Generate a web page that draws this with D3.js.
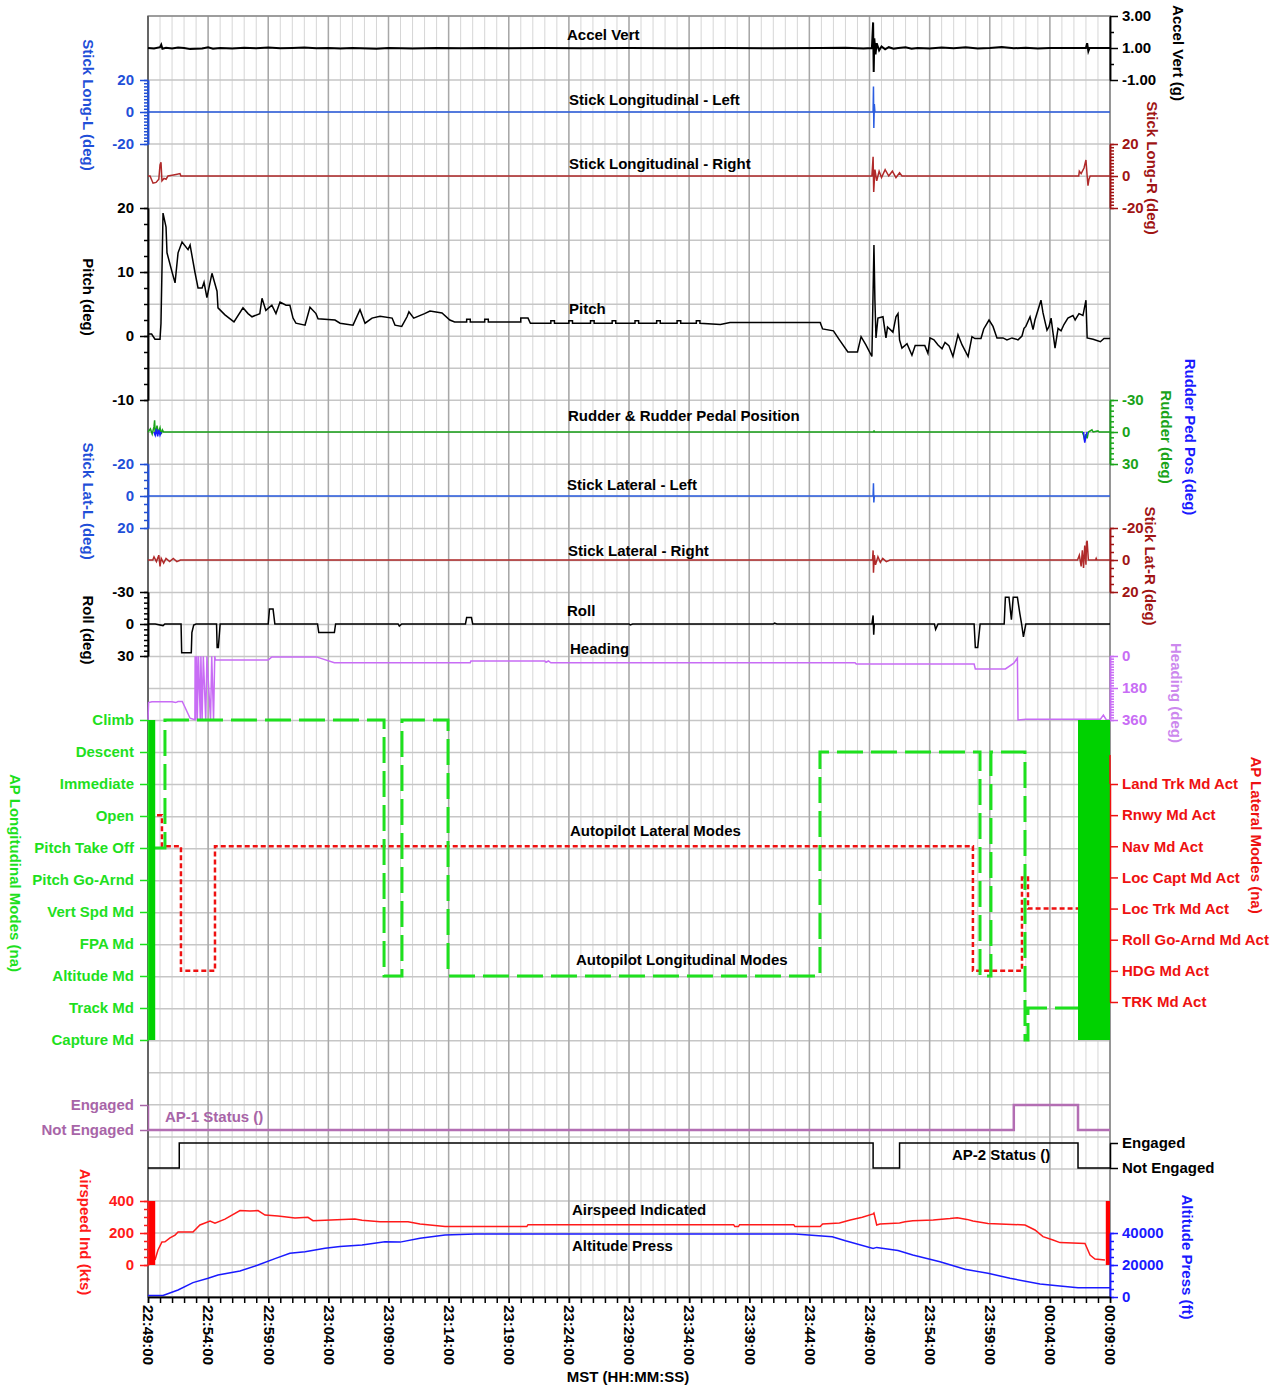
<!DOCTYPE html>
<html>
<head>
<meta charset="utf-8">
<script src="https://cdn.jsdelivr.net/npm/d3@7"></script>
<style>
  body { margin: 0; background: #fff; }
  svg text { font-family: "Liberation Sans", Arial, sans-serif; font-weight: bold; }
</style>
</head>
<body>
<div id="chart"></div>
<script>
// time in minutes after 22:49:00 MST
const accelVert = [[0,1.0],[0.5,0.97],[1.0,1.05],[1.1,1.2],[1.2,0.95],[1.5,1.02],[2.0,0.97],[2.5,1.03],[3.0,1.0],[3.5,0.93],[4.5,0.97],[5.0,1.04],[5.4,0.96],[6,1.0],[7,0.97],[8,1.02],[9,0.98],[10,1.03],[11,0.98],[12,1.0],[13,1.03],[14,0.98],[15,1.0],[16,0.97],[17,1.0],[19,0.96],[20,1.0],[22,0.97],[24,1.0],[26,0.98],[28,1.0],[30,0.98],[33,1.0],[36,0.98],[40,1.0],[44,0.98],[48,1.0],[52,0.98],[56,1.0],[58,1.02],[59.5,0.97],[60.2,1.0],[60.3,2.6],[60.35,-0.5],[60.4,1.6],[60.5,0.6],[60.6,1.3],[60.8,0.85],[61,1.1],[61.3,0.92],[61.6,1.05],[62,0.95],[62.4,1.0],[63,1.04],[63.5,0.96],[64,1.0],[65,0.97],[66,1.03],[67,0.98],[68,1.04],[69,0.97],[70,1.0],[71,1.06],[72,0.98],[73,1.02],[74,0.97],[75,1.0],[78,1.0],[78.1,1.3],[78.2,0.8],[78.3,1.0],[80,1.0]];

const stickLongL = [[0,0],[60.3,0],[60.33,16],[60.36,-10],[60.4,5],[60.45,0],[80,0]];
const stickLongR = [[0,0],[0.17,0],[0.42,-4.5],[0.67,-4],[0.9,-2],[1.0,7],[1.08,8.5],[1.16,-3],[1.33,-1.5],[1.5,-2],[1.66,0],[2.0,0.5],[2.33,1],[2.66,1.5],[2.74,0],
  [60.2,0],[60.3,12],[60.35,-10],[60.45,4],[60.6,-3],[60.8,3],[61,-1],[61.3,4],[61.6,0],[61.9,3],[62.2,-1],[62.5,2],[62.7,0],
  [77.4,0],[77.45,3],[77.6,1.5],[77.84,5],[78.0,10],[78.1,0],[78.17,-6],[78.25,-2],[78.35,0],[80,0]];

const pitch = [[0,0.3],[0.3,0.3],[0.58,-0.5],[1.0,-0.5],[1.08,2],[1.25,19.2],[1.5,17],[1.58,13],[2.0,10],[2.25,8.3],[2.5,13],[2.83,14.7],[3.33,13.5],[3.5,14.2],[3.9,10],[4.16,7.5],[4.5,7.5],[4.66,8.4],[4.9,6],[5.32,9.8],[5.74,7],[5.82,4.4],[6.4,3.3],[7.15,2.2],[7.9,4.4],[8.32,3.5],[8.65,3],[9.3,3.5],[9.48,5.9],[9.8,4],[10.3,4.8],[10.64,3.5],[10.98,5.3],[11.48,4.8],[11.8,4.8],[12.06,2.8],[12.3,2.0],[13.06,1.7],[13.47,4.5],[13.97,3.5],[14.14,2.7],[15.55,2.5],[15.97,2.0],[17.05,1.7],[17.63,4.1],[18.05,2.0],[18.63,2.8],[19.3,3.1],[20.3,2.8],[20.54,1.7],[21.1,1.5],[21.54,3],[21.7,3.8],[22.1,2.8],[23.0,3.5],[23.45,3.9],[24.45,3.6],[25.1,2.5],[25.5,2.2],
  [26.5,2.2],[26.5,2.6],[26.8,2.6],[26.8,2.2],[28.0,2.2],[28.0,2.6],[28.3,2.6],[28.3,2.2],[31.0,2.2],[31.0,2.8],[31.6,2.8],[31.8,2.0],
  [33.5,2.0],[33.5,2.4],[33.8,2.4],[33.8,2.0],[35.0,2.0],[35.0,2.4],[35.3,2.4],[35.3,2.0],[36.8,2.0],[36.8,2.4],[37.1,2.4],[37.1,2.0],
  [38.6,2.0],[38.6,2.4],[38.9,2.4],[38.9,2.0],[40.5,2.0],[40.5,2.4],[40.8,2.4],[40.8,2.0],[42.3,2.0],[42.3,2.4],[42.6,2.4],[42.6,2.0],
  [44.0,2.0],[44.0,2.4],[44.3,2.4],[44.3,2.0],[45.6,2.0],[45.6,2.4],[45.9,2.4],[45.9,2.0],[47.6,1.8],[48.4,2.1],
  [55.9,2.1],[56.1,1.1],[57.0,0.8],[57.5,-0.6],[58.2,-2.5],[59.0,-2.5],[59.3,-0.1],[59.7,-1.4],[60.2,-3.2],[60.37,14.2],[60.45,5.6],[60.54,-0.3],[60.7,2.8],[61.12,3],[61.37,-0.3],[61.5,1.4],[61.95,0.6],[62.2,3],[62.37,3.5],[62.5,-0.6],[62.7,-1.9],[63.12,-1.2],[63.53,-3],[63.8,-1.5],[64.6,-1.5],[64.86,-2.7],[65.03,-0.3],[65.36,-0.6],[65.7,-1.4],[66.03,-2],[66.28,-1],[66.6,-1.5],[66.94,-3.2],[67.36,0.2],[67.7,-1.4],[68.2,-3.2],[68.52,-0.1],[68.77,-0.4],[69.27,-0.4],[69.5,1.1],[69.94,2.5],[70.27,1.5],[70.6,-0.3],[71.1,-0.3],[71.43,-0.6],[71.85,-0.3],[72.35,-0.6],[72.68,0],[72.85,1.2],[73.0,1.5],[73.35,3],[73.6,1],[73.76,2.5],[74.26,5.6],[74.43,3.6],[74.6,2.2],[74.76,0.9],[74.93,1.5],[75.1,2.8],[75.26,0.5],[75.43,-1.9],[75.68,1.2],[75.93,0.8],[76.17,1.8],[76.5,2.8],[76.92,3.2],[77.1,2.5],[77.42,3.5],[77.75,3.2],[78.0,5.6],[78.1,-0.3],[78.6,-0.5],[79.2,-0.9],[79.5,-0.4],[80,-0.4]];

const rudder = [[0,0],[0.2,-3],[0.35,2],[0.5,-5],[0.55,-11],[0.6,3],[0.75,-6],[0.85,1],[1.0,-4],[1.1,2],[1.2,-2],[1.3,0],[60.35,0],[60.38,-1.5],[60.4,0],[77.7,0],[77.8,3],[77.9,8],[78.0,2],[78.1,6],[78.2,0],[78.5,-2],[78.6,0],[79,-1],[79.1,0],[80,0]];
const rudderPedalTakeoff = [[0.5,0],[0.6,3],[0.7,-3],[0.8,4],[0.9,-2],[1.0,3],[1.1,0]];
const rudderPedalLanding = [[77.8,0],[77.9,10],[78.0,4],[78.1,0]];

const stickLatL = [[0,0],[60.3,0],[60.33,-8],[60.36,4],[60.4,0],[80,0]];
const stickLatR = [[0,0],[0.4,0],[0.5,-2],[0.7,1],[0.9,-3],[1.0,4],[1.1,-1],[1.3,2],[1.5,-1],[1.8,1],[2.1,-1],[2.4,1],[2.7,0],
  [60.25,0],[60.3,-6],[60.33,8],[60.4,-3],[60.5,3],[60.7,-2],[60.9,1.5],[61.1,-1],[61.4,1],[61.7,0],
  [77.3,0],[77.45,-3],[77.6,4],[77.7,-6],[77.8,5],[77.9,-9],[78.0,3],[78.05,-11],[78.1,-12],[78.2,0],[78.8,0],[78.85,-1],[78.9,0],[80,0]];

const roll = [[0,0],[0.6,0],[1.25,1.5],[1.4,0],[2.75,0],[2.8,27],[3.6,27],[3.65,8],[3.8,1],[4.0,0],[5.7,0],[5.75,22],[5.85,22],[6.0,0],[10.0,0],[10.1,-14],[10.4,-14],[10.55,0],[14.1,0],[14.2,8],[15.5,8],[15.6,0],[20.8,0],[20.9,2],[21.1,0],[26.4,0],[26.5,-6],[26.9,-6],[27.0,0],
  [40,0],[40.1,0.8],[40.3,0],[52,0],[52.1,-0.8],[52.3,0],[60.2,0],[60.3,-8],[60.35,10],[60.4,0],[65.4,0],[65.5,5],[65.7,0],[68.7,0],[68.8,22],[69.0,22],[69.2,0],
  [71.2,0],[71.3,-25],[71.6,-25],[71.8,-4],[71.95,-25],[72.3,-25],[72.5,-10],[72.65,0],[72.8,12],[73.0,0],[80,0]];

const heading = [[0,360],[0.05,262],[0.33,258],[2.0,258],[2.3,262],[2.5,256],[2.85,256],[3.5,350],[3.9,359],[3.92,1],[3.95,359],[4.05,1],[4.1,359],[4.2,1],[4.35,359],[4.4,1],[4.5,359],[4.6,1],[4.8,359],[4.9,1],[5.2,359],[5.3,1],[5.45,359],[5.55,1],[5.6,22],
  [10.0,22],[10.3,5],[14.0,5],[15.5,38],[26.8,38],[26.85,28],[33.0,28],[33.1,35],[33.3,28],[33.5,38],[58.8,38],[58.9,45],[68.7,45],[68.8,73],[71.3,73],[72.0,40],[72.3,11],[72.35,360],[73.0,356],[79.2,356],[79.45,332],[79.7,360],[80,360]];

const apLongCategories = ["Climb","Descent","Immediate","Open","Pitch Take Off","Pitch Go-Arnd","Vert Spd Md","FPA Md","Altitude Md","Track Md","Capture Md"];
const apLongModes = [[0.58,"Pitch Take Off"],[1.41,"Climb"],[19.63,"Altitude Md"],[21.12,"Climb"],[24.95,"Altitude Md"],[55.88,"Descent"],[69.19,"Altitude Md"],[70.1,"Descent"],[72.93,"Capture Md"],[73.18,"Track Md"],[77.34,"Track Md"]];
const apLongBursts = [[0,0.6],[77.34,80]];

const apLatCategories = ["Land Trk Md Act","Rnwy Md Act","Nav Md Act","Loc Capt Md Act","Loc Trk Md Act","Roll Go-Arnd Md Act","HDG Md Act","TRK Md Act"];
const apLatModes = [[0.75,"Rnwy Md Act"],[1.16,"Nav Md Act"],[2.74,"HDG Md Act"],[5.57,"Nav Md Act"],[68.6,"HDG Md Act"],[72.68,"Loc Capt Md Act"],[73.18,"Loc Trk Md Act"],[77.34,"Loc Trk Md Act"]];

const statusCategories = ["Engaged","Not Engaged"];
const ap1Status = [[0,"Not Engaged"],[72.0,"Engaged"],[77.34,"Not Engaged"],[80,"Not Engaged"]];
const ap2Status = [[0,"Not Engaged"],[2.6,"Engaged"],[60.3,"Not Engaged"],[62.5,"Engaged"],[77.34,"Not Engaged"],[80,"Not Engaged"]];

const airspeed = [[0.58,31],[0.83,94],[1.16,144],[1.41,145],[1.83,169],[2.25,187],[2.5,206],[3.74,206],[4.32,250],[5.16,275],[5.57,262],[6.4,287],[7.65,340],[8.48,337],[9.15,340],[9.73,312],[10.81,306],[12.22,294],[13.3,298],[13.72,277],[17.2,287],[17.8,280],[19.3,270],[21.62,270],[22.62,256],[24.7,240],[31.5,240],[31.6,252],[48.7,252],[48.8,240],[49.1,240],[49.2,252],[53.7,252],[53.8,240],[55.9,240],[56.1,256],[57.5,262],[58.4,281],[59.4,298],[60.3,319],[60.37,325],[60.6,250],[60.87,256],[62.5,262],[62.95,270],[63.6,277],[65.3,281],[66.7,290],[67.3,296],[68.1,285],[68.6,275],[69.85,260],[72.93,250],[73.76,219],[74.43,177],[75.26,156],[75.84,140],[77.92,135],[78.34,62],[78.75,37],[79.58,31]];
const airspeedBursts = [[0,0.6],[79.65,80]];

const altitude = [[0,1000],[1.25,1000],[2.5,4400],[3.74,9000],[5.0,11700],[5.82,13700],[7.65,16250],[9.15,20000],[10.56,24000],[11.8,27300],[13.06,28300],[14.72,30400],[15.97,31500],[17.8,32500],[19.7,34600],[20.96,34300],[22.62,36700],[24.7,38800],[27.2,39400],[53.8,39400],[56.9,37700],[58.0,35200],[60.3,30400],[60.6,31000],[62.37,29000],[63.6,26250],[65.86,22000],[67.94,17300],[69.85,14800],[71.68,11700],[74.18,8100],[75.84,6900],[77.34,5800],[80,5800]];

const accelTicks = [3, 1, -1];
const stickLongTicks = [20, 0, -20];
const pitchTicks = [20, 10, 0, -10];
const rudderTicks = [-30, 0, 30];
const stickLatTicks = [-20, 0, 20];
const rollTicks = [-30, 0, 30];
const headingTicks = [0, 180, 360];
const airspeedTicks = [400, 200, 0];
const altitudeTicks = [40000, 20000, 0];

const width = 1276, height = 1388;
const plotL = 148, plotR = 1110, plotT = 16, plotB = 1297;

const svg = d3.select("#chart").append("svg")
  .attr("width", width).attr("height", height);

const t0 = new Date(2020, 0, 1, 22, 49, 0);
const T = m => new Date(+t0 + m * 60000);
const x = d3.scaleTime().domain([t0, T(80)]).range([plotL, plotR]);

// grid
const minuteTicks = x.ticks(d3.timeMinute.every(1));
const fiveTicks = minuteTicks.filter((d, i) => i % 5 === 0);
const grid = svg.append("g");
grid.selectAll(".vmin").data(minuteTicks).enter().append("line")
  .attr("x1", d => x(d)).attr("x2", d => x(d)).attr("y1", plotT).attr("y2", plotB)
  .attr("stroke", "#d6d6d6").attr("stroke-width", 1);
grid.selectAll(".hrow").data(d3.range(0, 41)).enter().append("line")
  .attr("x1", plotL).attr("x2", plotR)
  .attr("y1", k => plotT + k * (plotB - plotT) / 40).attr("y2", k => plotT + k * (plotB - plotT) / 40)
  .attr("stroke", "#c6c6c6").attr("stroke-width", 1.5);
grid.selectAll(".vmaj").data(fiveTicks).enter().append("line")
  .attr("x1", d => x(d)).attr("x2", d => x(d)).attr("y1", plotT).attr("y2", plotB)
  .attr("stroke", "#a8a8a8").attr("stroke-width", 1.5);

svg.append("rect").attr("x", plotL).attr("y", plotT).attr("width", plotR - plotL).attr("height", plotB - plotT)
  .attr("fill", "none").attr("stroke", "#8a8a8a").attr("stroke-width", 1.5);
svg.append("line").attr("x1", plotL).attr("x2", plotL).attr("y1", plotT).attr("y2", plotB)
  .attr("stroke", "#555").attr("stroke-width", 1.5);

// helpers
function drawLine(data, y, color, w, curve, dash) {
  const gen = d3.line().x(d => x(T(d[0]))).y(d => y(d[1])).curve(curve || d3.curveLinear);
  svg.append("path").datum(data).attr("d", gen)
    .attr("fill", "none").attr("stroke", color).attr("stroke-width", w)
    .attr("stroke-dasharray", dash || null).attr("stroke-linejoin", "miter");
}

function yAxis(scale, side, color, majors, minors, fmt) {
  const mk = side === "left" ? d3.axisLeft : d3.axisRight;
  const g = svg.append("g").attr("transform", `translate(${side === "left" ? plotL : plotR},0)`)
    .attr("color", color);
  if (minors) {
    g.append("g").call(mk(scale).tickValues(minors).tickSize(4).tickSizeOuter(0).tickFormat(""));
  }
  g.append("g").call(mk(scale).tickValues(majors).tickSize(8).tickSizeOuter(0)
    .tickPadding(side === "left" ? 6 : 4).tickFormat(fmt || (d => String(d))));
  g.selectAll("text").attr("font-size", 15).attr("font-weight", "bold")
    .attr("font-family", '"Liberation Sans", Arial, sans-serif');
  g.selectAll("path.domain, line").attr("stroke-width", 1.5);
  return g;
}

function vTitle(text, cx, cy, color) {
  svg.append("text").attr("transform", `translate(${cx},${cy}) rotate(90)`)
    .attr("text-anchor", "middle").attr("dominant-baseline", "central")
    .attr("font-size", 15).attr("fill", color).text(text);
}

function title(text, tx, ty, color) {
  svg.append("text").attr("x", tx).attr("y", ty).attr("font-size", 15)
    .attr("fill", color || "#000").text(text);
}

const step = (a, b, s) => d3.range(a, b + s / 2, s);

// Accel Vert
const yAccel = d3.scaleLinear().domain([-1, 3]).range([80, 16]);
drawLine(accelVert, yAccel, "#000", 2);
yAxis(yAccel, "right", "#000", accelTicks, [2, 0], d => d.toFixed(2));
title("Accel Vert", 567, 40);
vTitle("Accel Vert (g)", 1178, 53, "#000");

// Stick Long-L
const yLongL = d3.scaleLinear().domain([-20, 20]).range([144, 80]);
drawLine(stickLongL, yLongL, "#2a5ce0", 1.5);
yAxis(yLongL, "left", "#1f4fd8", stickLongTicks, step(-20, 20, 2));
title("Stick Longitudinal - Left", 569, 105);
vTitle("Stick Long-L (deg)", 88, 105, "#1f4fd8");

// Stick Long-R
const yLongR = d3.scaleLinear().domain([-20, 20]).range([208, 144]);
drawLine(stickLongR, yLongR, "#b02a2a", 1.5);
yAxis(yLongR, "right", "#a01414", stickLongTicks, step(-20, 20, 2));
title("Stick Longitudinal - Right", 569, 169);
vTitle("Stick Long-R (deg)", 1152, 168, "#a01414");

// Pitch
const yPitch = d3.scaleLinear().domain([-10, 20]).range([400, 208]);
drawLine(pitch, yPitch, "#000", 1.5);
yAxis(yPitch, "left", "#000", pitchTicks, step(-10, 20, 2.5));
title("Pitch", 569, 314);
vTitle("Pitch (deg)", 88, 297, "#000");

// Rudder & pedal
const yRud = d3.scaleLinear().domain([-30, 30]).range([400, 464]);
drawLine(rudder, yRud, "#1aa31a", 1.5);
drawLine(rudderPedalTakeoff, yRud, "#1a1aff", 1.5);
drawLine(rudderPedalLanding, yRud, "#1a1aff", 1.5);
yAxis(yRud, "right", "#1aa31a", rudderTicks, step(-30, 30, 5));
title("Rudder & Rudder Pedal Position", 568, 421);
vTitle("Rudder (deg)", 1166, 437, "#1aa31a");
vTitle("Rudder Ped Pos (deg)", 1190, 437, "#1a1aff");

// Stick Lat-L
const yLatL = d3.scaleLinear().domain([-20, 20]).range([464, 528]);
drawLine(stickLatL, yLatL, "#2a5ce0", 1.5);
yAxis(yLatL, "left", "#1f4fd8", stickLatTicks, step(-20, 20, 5));
title("Stick Lateral - Left", 567, 490);
vTitle("Stick Lat-L (deg)", 88, 501, "#1f4fd8");

// Stick Lat-R
const yLatR = d3.scaleLinear().domain([-20, 20]).range([528, 592]);
drawLine(stickLatR, yLatR, "#b02a2a", 1.5);
yAxis(yLatR, "right", "#a01414", stickLatTicks, step(-20, 20, 5));
title("Stick Lateral - Right", 568, 556);
vTitle("Stick Lat-R (deg)", 1150, 566, "#a01414");

// Roll
const yRoll = d3.scaleLinear().domain([-30, 30]).range([592, 656]);
drawLine(roll, yRoll, "#000", 1.5);
yAxis(yRoll, "left", "#000", rollTicks, step(-30, 30, 5));
title("Roll", 567, 616);
vTitle("Roll (deg)", 88, 630, "#000");

// Heading
const yHdg = d3.scaleLinear().domain([0, 360]).range([656, 720]);
drawLine(heading, yHdg, "#c86cf5", 1.5);
yAxis(yHdg, "right", "#c86cf5", headingTicks, step(0, 360, 15));
title("Heading", 570, 654);
vTitle("Heading (deg)", 1176, 693, "#cc88ee");

// AP longitudinal modes
const yLong = d3.scalePoint().domain(apLongCategories).range([720, 1040]);
// AP lateral modes
const yLat = d3.scalePoint().domain(apLatCategories).range([784, 1002]);
drawLine(apLatModes, yLat, "#ee1111", 2.5, d3.curveStepAfter, "5,3");
drawLine(apLongModes, yLong, "#1ee01e", 3, d3.curveStepAfter, "26,8");
svg.selectAll(".burst").data(apLongBursts).enter().append("rect")
  .attr("x", d => x(T(d[0]))).attr("width", d => x(T(d[1])) - x(T(d[0])))
  .attr("y", yLong(apLongCategories[0]))
  .attr("height", yLong(apLongCategories[apLongCategories.length - 1]) - yLong(apLongCategories[0]))
  .attr("fill", "#00d200");
yAxis(yLong, "left", "#1ee01e", apLongCategories, null, d => d);
svg.append("line").attr("x1", plotR).attr("x2", plotR).attr("y1", 755).attr("y2", 784)
  .attr("stroke", "#ee1111").attr("stroke-width", 1.5);
yAxis(yLat, "right", "#ee1111", apLatCategories, null, d => d);
title("Autopilot Lateral Modes", 570, 836);
title("Autopilot Longitudinal Modes", 576, 965);
vTitle("AP Longitudinal Modes (na)", 15, 873, "#1ee01e");
vTitle("AP Lateral Modes (na)", 1256, 835, "#ee1111");

// AP-1 / AP-2 status
const yAp1 = d3.scalePoint().domain(statusCategories).range([1105, 1130]);
const yAp2 = d3.scalePoint().domain(statusCategories).range([1143, 1168]);
drawLine(ap1Status, yAp1, "#b36eb3", 2.5, d3.curveStepAfter);
drawLine(ap2Status, yAp2, "#000", 1.5, d3.curveStepAfter);
yAxis(yAp1, "left", "#a865a8", statusCategories, null, d => d);
yAxis(yAp2, "right", "#000", statusCategories, null, d => d);
title("AP-1 Status ()", 165, 1122, "#a865a8");
title("AP-2 Status ()", 952, 1160, "#000");

// Airspeed & altitude
const yAs = d3.scaleLinear().domain([0, 400]).range([1265, 1201]);
const yAlt = d3.scaleLinear().domain([0, 40000]).range([1297, 1233]);
drawLine(altitude, yAlt, "#1a1aff", 1.5);
drawLine(airspeed, yAs, "#ff1a1a", 1.5);
svg.selectAll(".asburst").data(airspeedBursts).enter().append("rect")
  .attr("x", d => x(T(d[0]))).attr("width", d => x(T(d[1])) - x(T(d[0])))
  .attr("y", yAs(400)).attr("height", yAs(0) - yAs(400))
  .attr("fill", "#ff0000");
yAxis(yAs, "left", "#ff1a1a", airspeedTicks, step(0, 400, 50));
yAxis(yAlt, "right", "#1a1aff", altitudeTicks, step(0, 40000, 5000));
title("Airspeed Indicated", 572, 1215);
title("Altitude Press", 572, 1251);
vTitle("Airspeed Ind (kts)", 85, 1232, "#ff1a1a");
vTitle("Altitude Press (ft)", 1187, 1257, "#1a1aff");

// time axis
const gx = svg.append("g").attr("transform", `translate(0,${plotB})`).attr("color", "#000");
gx.append("g").call(d3.axisBottom(x).tickValues(minuteTicks).tickSize(6).tickSizeOuter(0).tickFormat(""));
gx.append("g").call(d3.axisBottom(x).tickValues(fiveTicks).tickSize(6).tickSizeOuter(0)
  .tickFormat(d3.timeFormat("%H:%M:%S")));
gx.selectAll("path.domain, line").attr("stroke-width", 1.5);
gx.selectAll("text")
  .attr("font-size", 15).attr("font-weight", "bold")
  .attr("font-family", '"Liberation Sans", Arial, sans-serif')
  .attr("transform", "rotate(90)").attr("text-anchor", "start")
  .attr("x", 8).attr("y", 0).attr("dy", "0.35em");
svg.append("text").attr("x", 628).attr("y", 1382).attr("text-anchor", "middle")
  .attr("font-size", 15).text("MST (HH:MM:SS)");
</script>
</body>
</html>
